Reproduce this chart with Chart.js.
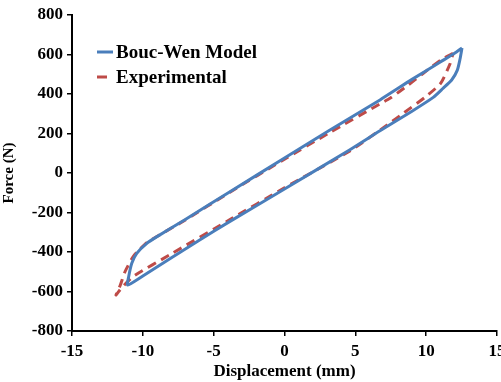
<!DOCTYPE html>
<html>
<head>
<meta charset="utf-8">
<script src="https://cdn.jsdelivr.net/npm/chart.js@4"></script>
<style>
html,body{margin:0;padding:0;background:#fff;overflow:hidden;}
#wrap{width:501px;height:382px;position:relative;}
</style>
</head>
<body>
<div id="wrap"><canvas id="c" width="501" height="382"></canvas></div>
<script>
// Bouc-Wen model loop (displacement mm, force N)
const bwX = [12.53, 12.0, 11.0, 9.0, 6.74, 3.21, 0, -3.85, -7.0, -9.0, -9.72, -10.43, -10.78, -11.0, -11.07, -10.0, -5.96, -3.85, 0, 4.62, 6.74, 9.0, 10.5, 11.18, 11.8, 12.2, 12.39, 12.53];
const bwY = [633, 606, 562, 474, 370, 218, 76, -95, -235, -322, -356, -407, -457, -525, -567, -521, -338, -245, -81, 118, 214, 313, 383, 428, 471, 521, 577, 633];
// Experimental loop
const expX = [11.9, 11.09, 9.8, 8.74, 7.44, 6.74, 3.2, 0, -3.85, -7.0, -9.7, -10.4, -10.7, -11.26, -11.6, -11.9, -11.5, -10.7, -8.0, -3.85, 0, 4.62, 7.25, 8.43, 9.91, 11.02, 11.68, 11.9];
const expY = [606, 575, 505, 446, 378, 350, 205, 70, -97, -238, -352, -400, -425, -500, -570, -618, -582, -525, -410, -236, -75, 112, 243, 305, 383, 454, 552, 606];
const seriesNames = ['Bouc-Wen Model', 'Experimental'];
const xTicks = [-15, -10, -5, 0, 5, 10, 15];
const yTicks = [-800, -600, -400, -200, 0, 200, 400, 600, 800];

const toPts = (xs, ys) => xs.map((x, i) => ({x: x, y: ys[i]}));
const serif = '"Liberation Serif", "Times New Roman", serif';

const legendPlugin = {
  id: 'insideLegend',
  afterDatasetsDraw(chart) {
    const ctx = chart.ctx;
    const items = [
      {y: 52, x0: 97, x1: 113},
      {y: 77, x0: 97, x1: 107}
    ];
    chart.data.datasets.forEach((ds, i) => {
      const it = items[i];
      ctx.save();
      ctx.strokeStyle = ds.borderColor;
      ctx.lineWidth = 3;
      ctx.setLineDash([]);
      ctx.beginPath();
      ctx.moveTo(it.x0, it.y);
      ctx.lineTo(it.x1, it.y);
      ctx.stroke();
      ctx.fillStyle = '#000';
      ctx.font = 'bold 19px ' + serif;
      ctx.textBaseline = 'middle';
      ctx.textAlign = 'left';
      ctx.fillText(ds.label, 116, it.y + 1);
      ctx.restore();
    });
  }
};

new Chart(document.getElementById('c'), {
  type: 'scatter',
  data: {
    datasets: [
      {
        label: seriesNames[0],
        data: toPts(bwX, bwY),
        showLine: true,
        borderColor: '#4A7EBB',
        backgroundColor: '#4A7EBB',
        borderWidth: 3,
        pointRadius: 0,
        tension: 0.2,
        fill: false
      },
      {
        label: seriesNames[1],
        data: toPts(expX, expY),
        showLine: true,
        borderColor: '#BE4B48',
        backgroundColor: '#BE4B48',
        borderWidth: 3,
        borderDash: [9, 6],
        pointRadius: 0,
        tension: 0.2,
        fill: false
      }
    ]
  },
  options: {
    responsive: false,
    animation: false,
    devicePixelRatio: 1,
    layout: {padding: {top: 15, right: 4, bottom: 0, left: 0}},
    plugins: {legend: {display: false}, tooltip: {enabled: false}},
    scales: {
      x: {
        type: 'linear',
        min: -15, max: 15,
        afterBuildTicks(s) { s.ticks = xTicks.map(v => ({value: v})); },
        afterFit(s) { s.paddingRight = 0; s.paddingLeft = 0; s.height = 51; },
        ticks: {
          maxRotation: 0, autoSkip: false, padding: 5, color: '#000',
          font: {family: serif, size: 17, weight: 'bold'}
        },
        grid: {display: true, drawOnChartArea: false, drawTicks: true, tickLength: 5, color: '#000', lineWidth: 1.5},
        border: {display: true, color: '#000', width: 2},
        title: {display: true, text: 'Displacement (mm)', color: '#000', padding: {top: 0, bottom: 0},
          font: {family: serif, size: 17, weight: 'bold'}}
      },
      y: {
        type: 'linear',
        min: -800, max: 800,
        afterBuildTicks(s) { s.ticks = yTicks.map(v => ({value: v})); },
        afterFit(s) { s.width = 72; s.paddingTop = 0; s.paddingBottom = 0; },
        ticks: {
          autoSkip: false, padding: 4, color: '#000',
          font: {family: serif, size: 17, weight: 'bold'}
        },
        grid: {display: true, drawOnChartArea: false, drawTicks: true, tickLength: 5, color: '#000', lineWidth: 1.5},
        border: {display: true, color: '#000', width: 2},
        title: {display: true, text: 'Force (N)', color: '#000', padding: {top: 0, bottom: 0},
          font: {family: serif, size: 15, weight: 'bold'}}
      }
    }
  },
  plugins: [legendPlugin]
});
</script>
</body>
</html>
